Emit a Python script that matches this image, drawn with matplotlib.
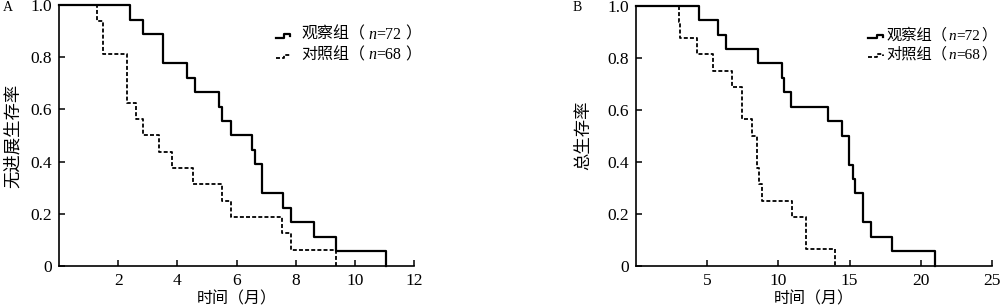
import matplotlib
matplotlib.use("Agg")
import matplotlib.pyplot as plt
from matplotlib.lines import Line2D
from matplotlib.offsetbox import TextArea, HPacker, VPacker, DrawingArea, AnchoredOffsetbox

FAM = ['Liberation Serif', 'Noto Sans CJK SC']
plt.rcParams['font.family'] = FAM

# ---------------- data ----------------
A_obs_t = [0, 2.40, 2.83, 3.52, 4.31, 4.61, 5.41, 5.52, 5.81, 6.53, 6.62, 6.85, 7.56, 7.84, 8.63, 9.36, 11.07]
A_obs_s = [1.0, 0.944, 0.889, 0.778, 0.722, 0.667, 0.611, 0.556, 0.5, 0.444, 0.389, 0.278, 0.222, 0.167, 0.111, 0.056, 0.0]
A_ctl_t = [0, 1.30, 1.50, 2.29, 2.60, 2.83, 3.39, 3.82, 4.52, 5.52, 5.81, 7.54, 7.84, 9.36]
A_ctl_s = [1.0, 0.9375, 0.8125, 0.625, 0.5625, 0.5, 0.4375, 0.375, 0.3125, 0.25, 0.1875, 0.125, 0.0625, 0.0]

B_obs_t = [0, 4.45, 5.75, 6.34, 8.55, 10.25, 10.40, 10.86, 13.48, 14.47, 14.95, 15.26, 15.37, 15.97, 16.5, 18.0, 21.0]
B_obs_s = [1.0, 0.944, 0.889, 0.833, 0.778, 0.722, 0.667, 0.611, 0.556, 0.5, 0.389, 0.333, 0.278, 0.167, 0.111, 0.056, 0.0]
B_ctl_t = [0, 2.99, 3.09, 4.30, 5.44, 6.75, 7.45, 8.16, 8.50, 8.66, 8.85, 10.97, 11.97, 13.94]
B_ctl_s = [1.0, 0.9375, 0.875, 0.8125, 0.75, 0.6875, 0.5625, 0.5, 0.375, 0.3125, 0.25, 0.1875, 0.0625, 0.0]

group_names = ['观察组', '对照组']
group_n = ['72', '68']
y_ticks = [0, 0.2, 0.4, 0.6, 0.8, 1.0]
y_ticklabels = ['0', '0.2', '0.4', '0.6', '0.8', '1.0']
A_xticks = [2, 4, 6, 8, 10, 12]
B_xticks = [5, 10, 15, 20, 25]

SOLID = dict(color='black', lw=1.6, linestyle='-')
DASH = dict(color='black', lw=1.3, linestyle=(0, (2.2, 1.2)))

fig = plt.figure(figsize=(10, 3.08), dpi=100)
axA = fig.add_axes([0.059, 0.1364, 0.355, 0.8474])
axB = fig.add_axes([0.636, 0.1373, 0.356, 0.8442])


def style(ax, xmax, xticks):
    ax.set_xlim(0, xmax)
    ax.set_ylim(0, 1.0)
    ax.set_xticks(xticks)
    ax.set_yticks(y_ticks)
    ax.set_yticklabels(y_ticklabels)
    for s in ['top', 'right']:
        ax.spines[s].set_visible(False)
    for s in ['left', 'bottom']:
        ax.spines[s].set_linewidth(1.2)
    ax.tick_params(direction='in', length=4, width=1.1, labelsize=12.5, pad=5)
    ax.set_xlabel('时间（月）', fontsize=11.5, labelpad=2)


def legend_row(name, n, st, hw, gap, sp, fs):
    da = DrawingArea(hw, 8, 0, 0)
    xs = [0, hw * 0.55, hw * 0.55, hw * 0.92, hw * 0.92]
    ys = [2.0, 2.0, 4.4, 4.4, 3.0]
    da.add_artist(Line2D(xs, ys, **st))
    tp = dict(fontsize=fs, family=FAM, color='black')
    tpi = dict(fontsize=fs, family='Liberation Serif', style='italic', color='black')
    txt = HPacker(children=[TextArea(name + '（', textprops=tp),
                            DrawingArea(sp, 1, 0, 0),
                            TextArea('n', textprops=tpi),
                            TextArea('=' + n, textprops=tp),
                            DrawingArea(sp, 1, 0, 0),
                            TextArea('）', textprops=tp)],
                  align='baseline', pad=0, sep=0)
    return HPacker(children=[da, txt], align='center', pad=0, sep=gap)


for ax, (ot, os_, ct, cs), xmax, xt, ylab, hw, gap, sp, fs, lx, lp in [
    (axA, (A_obs_t, A_obs_s, A_ctl_t, A_ctl_s), 12, A_xticks, '无进展生存率', 11, 7, 2.5, 11.5, 0.276, 6),
    (axB, (B_obs_t, B_obs_s, B_ctl_t, B_ctl_s), 25, B_xticks, '总生存率', 12, 1, 1.0, 11.0, 0.868, 11),
]:
    ax.step(ot, os_, where='post', **SOLID, clip_on=False)
    ax.step(ct, cs, where='post', **DASH, clip_on=False)
    style(ax, xmax, xt)
    ax.set_ylabel(ylab, fontsize=12.5, labelpad=lp)
    rows = [legend_row(group_names[0], group_n[0], SOLID, hw, gap, sp, fs),
            legend_row(group_names[1], group_n[1], DASH, hw, gap, sp, fs)]
    vp = VPacker(children=rows, align='left', pad=0, sep=3)
    box = AnchoredOffsetbox(loc='center left', child=vp, pad=0, borderpad=0,
                            frameon=False, bbox_to_anchor=(lx, 1 - 45 / 308),
                            bbox_transform=fig.transFigure)
    ax.add_artist(box)

fig.text(0.003, 0.975, 'A', fontsize=10, va='center', ha='left')
fig.text(0.573, 0.975, 'B', fontsize=10, va='center', ha='left')

fig.savefig('out.png', dpi=100)
